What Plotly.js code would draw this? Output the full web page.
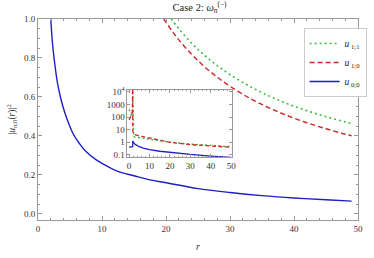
<!DOCTYPE html>
<html>
<head>
<meta charset="utf-8">
<script src="https://cdn.plot.ly/plotly-3.0.1.min.js"></script>
<style>html,body{margin:0;padding:0;background:#fff;}#chart{width:374px;height:258px;}</style>
</head>
<body>
<div id="chart"></div>
<script>
// ---- main panel data ----
const r11 = [20.8, 21, 22, 24, 26, 28, 30, 33, 36, 39, 42, 45, 48, 49];
const u11 = [1.0, 0.992, 0.950, 0.876, 0.814, 0.761, 0.715, 0.656, 0.607, 0.565, 0.530, 0.499, 0.472, 0.464];
const r10 = [19.65, 20, 21, 22, 24, 26, 28, 30, 33, 36, 39, 42, 45, 48, 49];
const u10 = [1.0, 0.983, 0.936, 0.893, 0.819, 0.756, 0.702, 0.655, 0.595, 0.546, 0.504, 0.468, 0.437, 0.409, 0.401];
const r00 = [2.0, 2.2, 2.4, 2.7, 3.0, 3.5, 4.0, 4.5, 5.5, 6.5, 7.5, 9, 10, 12.5, 15, 17.5, 20, 25, 30, 35, 40, 45, 49];
const u00 = [1.0, 0.90, 0.83, 0.75, 0.68, 0.60, 0.54, 0.49, 0.41, 0.36, 0.32, 0.28, 0.26, 0.218, 0.196, 0.175, 0.16, 0.13, 0.11, 0.094, 0.082, 0.073, 0.066];

// ---- inset data (log scale) ----
const ir11 = [0, 0.4, 0.8, 1.2, 1.5, 1.75, 1.82, 1.9, 2.2, 3, 5, 10, 15, 20, 30, 40, 50];
const iu11 = [400, 300, 200, 130, 100, 300, 100000, 3.2, 2.8, 2.6, 2.3, 1.9, 1.35, 1.03, 0.72, 0.56, 0.46];
const ir10 = [0, 0.4, 0.8, 1.2, 1.5, 1.65, 1.72, 1.8, 2.2, 3, 5, 10, 15, 20, 30, 40, 50];
const iu10 = [60, 80, 100, 150, 250, 600, 100000, 8, 5, 4.0, 3.2, 2.1, 1.35, 1.0, 0.66, 0.5, 0.4];
const ir00 = [0, 0.5, 1.0, 1.5, 1.75, 1.8, 2.0, 2.5, 3, 4, 5, 7, 10, 15, 20, 30, 40, 50];
const iu00 = [0.42, 0.42, 0.42, 0.43, 0.45, 1.25, 1.05, 0.82, 0.68, 0.54, 0.45, 0.35, 0.26, 0.196, 0.16, 0.11, 0.082, 0.065];

const xTicks = [0, 10, 20, 30, 40, 50];
const yTicks = [0.0, 0.2, 0.4, 0.6, 0.8, 1.0];
const yTickText = ["0.0", "0.2", "0.4", "0.6", "0.8", "1.0"];
const insetYTicks = [0.1, 1, 10, 100, 1000, 10000];
const insetYText = ["0.1", "1", "10", "100", "1000", "10<sup>4</sup>"];

const names = ["<i>u</i><sub> 1;1</sub>", "<i>u</i><sub> 1;0</sub>", "<i>u</i><sub> 0;0</sub>"];

const cGreen = "rgb(60,190,60)", cRed = "rgb(200,40,40)", cBlue = "rgb(30,30,200)";

const traces = [
  {x: r11, y: u11, name: names[0], legendgroup: "a", mode: "lines", line: {color: cGreen, width: 1.6, dash: "2px,3px", shape: "spline"}},
  {x: r10, y: u10, name: names[1], legendgroup: "b", mode: "lines", line: {color: cRed, width: 1.4, dash: "5px,3px", shape: "spline"}},
  {x: r00, y: u00, name: names[2], legendgroup: "c", mode: "lines", line: {color: cBlue, width: 1.4, shape: "spline"}},
  {x: ir11, y: iu11, xaxis: "x2", yaxis: "y2", showlegend: false, mode: "lines", line: {color: cGreen, width: 1.4, dash: "2px,2.5px"}},
  {x: ir10, y: iu10, xaxis: "x2", yaxis: "y2", showlegend: false, mode: "lines", line: {color: cRed, width: 1.3, dash: "4px,2.5px"}},
  {x: ir00, y: iu00, xaxis: "x2", yaxis: "y2", showlegend: false, mode: "lines", line: {color: cBlue, width: 1.3}}
];

const axCol = "#999";
const tfont = {family: "Liberation Serif, Times New Roman, serif", size: 9, color: "#333"};

const layout = {
  width: 374, height: 258,
  margin: {l: 38, r: 7, t: 19, b: 38},
  paper_bgcolor: "#fff", plot_bgcolor: "#fff",
  font: tfont,
  showlegend: true,
  title: {text: "Case 2: <i>ω</i><sub><i>n</i></sub><sup>(−)</sup>", x: 0.505, xref: "paper", xanchor: "center", y: 0.972, yref: "container", yanchor: "middle",
          font: {family: "Liberation Serif, serif", size: 10.5, color: "#222"}},
  xaxis: {
    range: [0, 50], tickvals: xTicks, showline: true, linecolor: axCol, linewidth: 1, mirror: "allticks",
    ticks: "inside", ticklen: 4, tickcolor: axCol, showgrid: false, zeroline: false, tickfont: tfont,
    minor: {dtick: 2, tick0: 0, ticks: "inside", ticklen: 2, tickcolor: axCol, showgrid: false},
    title: {text: "<i>r</i>", standoff: 10, font: {family: "Liberation Serif, serif", size: 10, color: "#333"}}
  },
  yaxis: {
    range: [-0.031, 1.0], tickvals: yTicks, ticktext: yTickText, showline: true, linecolor: axCol, linewidth: 1, mirror: "allticks",
    ticks: "inside", ticklen: 4, tickcolor: axCol, showgrid: false, zeroline: false, tickfont: tfont,
    minor: {dtick: 0.05, tick0: 0, ticks: "inside", ticklen: 2, tickcolor: axCol, showgrid: false},
    title: {text: "|<i>u</i><sub><i>n</i>;0</sub>(<i>r</i>)|<sup>2</sup>", standoff: 6, font: {family: "Liberation Serif, serif", size: 9.5, color: "#333"}}
  },
  xaxis2: {
    domain: [0.2796, 0.605], anchor: "y2", range: [-0.8, 50.2], tickvals: xTicks,
    showline: true, linecolor: axCol, mirror: "allticks", ticks: "inside", ticklen: 3, tickcolor: axCol,
    showgrid: false, zeroline: false, tickfont: tfont,
    minor: {dtick: 2, tick0: 0, ticks: "inside", ticklen: 1.5, tickcolor: axCol, showgrid: false}
  },
  yaxis2: {
    domain: [0.313, 0.647], anchor: "x2", type: "log", range: [-1.17, 4.15],
    tickvals: insetYTicks, ticktext: insetYText,
    showline: true, linecolor: axCol, mirror: "allticks", ticks: "inside", ticklen: 3, tickcolor: axCol,
    showgrid: false, zeroline: false, tickfont: tfont
  },
  legend: {
    x: 0.83, y: 0.955, xanchor: "left", yanchor: "top",
    bgcolor: "#fff", bordercolor: "#ccc", borderwidth: 1,
    font: {family: "Liberation Serif, serif", size: 9.5, color: "#222"},
    tracegroupgap: 8, itemwidth: 30, traceorder: "normal"
  }
};

Plotly.newPlot("chart", traces, layout, {displayModeBar: false, staticPlot: true});
</script>
</body>
</html>
